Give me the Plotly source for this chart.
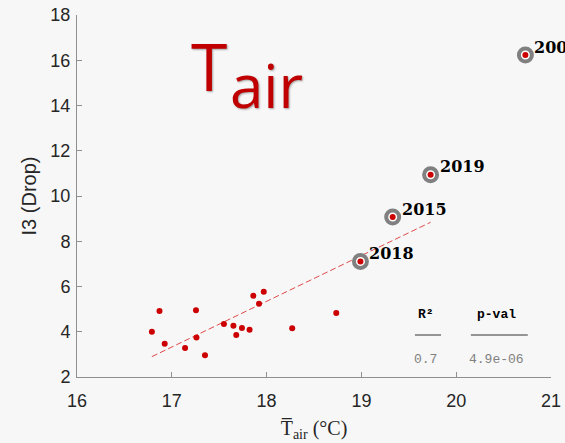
import plotly.graph_objects as go

# Data
tair = [16.79, 16.87, 16.925, 17.14, 17.255, 17.26, 17.35, 17.55, 17.65, 17.68,
        17.74, 17.82, 17.86, 17.92, 17.97, 18.27, 18.735]
drop = [4.0, 4.92, 3.47, 3.28, 4.95, 3.75, 2.96, 4.34, 4.27, 3.86,
        4.17, 4.09, 5.59, 5.24, 5.77, 4.15, 4.83]

hl_years = ["2018", "2015", "2019", "2003"]
hl_tair = [18.99, 19.33, 19.73, 20.73]
hl_drop = [7.11, 9.07, 10.94, 16.23]

fit_x = [16.79, 19.73]
fit_y = [2.90, 8.84]

stat_names = ["R\u00b2", "p-val"]
stat_values = ["0.7", "4.9e-06"]

x_ticks = [16, 17, 18, 19, 20, 21]
y_ticks = [2, 4, 6, 8, 10, 12, 14, 16, 18]

BG = "#f7f7f7"
RED = "#cc0000"
AX = "#8f8f8f"
TXT = "#262626"

fig = go.Figure()

fig.add_trace(go.Scatter(
    x=fit_x, y=fit_y, mode="lines",
    line=dict(color="#e04848", width=1, dash="6px,3px"),
    hoverinfo="skip", showlegend=False))

fig.add_trace(go.Scatter(
    x=hl_tair, y=hl_drop, mode="markers",
    marker=dict(size=13, color="white", line=dict(color="#808080", width=4)),
    cliponaxis=False, showlegend=False))

fig.add_trace(go.Scatter(
    x=tair + hl_tair, y=drop + hl_drop, mode="markers",
    marker=dict(size=6, color=RED, line=dict(width=0)),
    cliponaxis=False, showlegend=False))

annotations = []
for yr, xv, yv in zip(hl_years, hl_tair, hl_drop):
    annotations.append(dict(
        x=xv, y=yv, xref="x", yref="y", text=yr, showarrow=False,
        xanchor="left", yanchor="middle", xshift=7, yshift=8,
        font=dict(family="DejaVu Serif", size=16, color="black", weight="bold")))

# Big title "T" + "air"
annotations.append(dict(
    x=0.236, y=0.862, xref="paper", yref="paper", text="T", showarrow=False,
    xanchor="left", yanchor="middle",
    font=dict(family="Open Sans", size=66, color="#c00000",
              shadow="1px 1px 2px rgba(0,0,0,0.35)")))
annotations.append(dict(
    x=0.318, y=0.808, xref="paper", yref="paper", text="air", showarrow=False,
    xanchor="left", yanchor="middle",
    font=dict(family="Open Sans", size=60, color="#c00000",
              shadow="1px 1px 2px rgba(0,0,0,0.35)")))

# Stats table
stat_x = [0.736, 0.884]
for name, val, sx in zip(stat_names, stat_values, stat_x):
    annotations.append(dict(
        x=sx, y=0.174, xref="paper", yref="paper", text="<b>%s</b>" % name,
        showarrow=False, xanchor="center", yanchor="middle",
        font=dict(family="Liberation Mono", size=13, color="black")))
    annotations.append(dict(
        x=sx, y=0.047, xref="paper", yref="paper", text=val,
        showarrow=False, xanchor="center", yanchor="middle",
        font=dict(family="Liberation Mono", size=13, color="#808080")))

shapes = [
    dict(type="line", xref="paper", yref="paper", x0=0.713, x1=0.768, y0=0.116, y1=0.116,
         line=dict(color="#333333", width=1)),
    dict(type="line", xref="paper", yref="paper", x0=0.831, x1=0.951, y0=0.116, y1=0.116,
         line=dict(color="#333333", width=1)),
]

fig.update_layout(
    width=565, height=443,
    margin=dict(l=77, r=14, t=15, b=66, autoexpand=False),
    paper_bgcolor=BG, plot_bgcolor=BG,
    font=dict(family="Liberation Sans", color=TXT),
    annotations=annotations, shapes=shapes,
    showlegend=False,
    xaxis=dict(
        range=[16, 21], tickvals=x_ticks, ticktext=[str(v) for v in x_ticks],
        showgrid=False, zeroline=False, showline=True, linecolor=AX, linewidth=1,
        ticks="inside", ticklen=5, tickcolor=AX, ticklabelstandoff=7,
        ticklabeloverflow="allow",
        tickfont=dict(size=18, color=TXT),
        title=dict(text="T\u0305<sub>air</sub> (\u00b0C)", standoff=11,
                   font=dict(family="Liberation Serif", size=20, color=TXT))),
    yaxis=dict(
        range=[2, 18], tickvals=y_ticks, ticktext=[str(v) for v in y_ticks],
        showgrid=False, zeroline=False, showline=True, linecolor=AX, linewidth=1,
        ticks="inside", ticklen=5, tickcolor=AX, ticklabelstandoff=2,
        ticklabeloverflow="allow",
        tickfont=dict(size=18, color=TXT),
        title=dict(text="I3 (Drop)", standoff=8,
                   font=dict(family="Liberation Sans", size=20, color=TXT))),
)

fig.write_html(
    "out.html",
    config={"displayModeBar": False},
    post_script="document.body.style.margin='0';document.body.style.overflow='hidden';"
                "document.body.style.background='#f7f7f7';")
